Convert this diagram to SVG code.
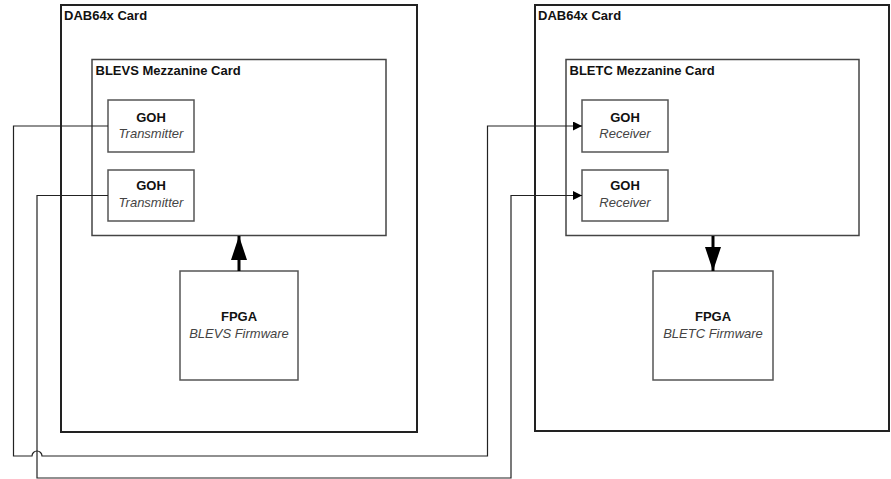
<svg xmlns="http://www.w3.org/2000/svg" width="891" height="479" viewBox="0 0 891 479">
  <style>
    .card { fill: #fff; stroke: #222; stroke-width: 2; }
    .mezz { fill: #fff; stroke: #444; stroke-width: 1.5; }
    .blk { fill: #fff; stroke: #555; stroke-width: 1.5; }
    .title { font-family: "Liberation Sans", Arial, sans-serif; font-size: 13px; font-weight: bold; fill: #111; }
    .name { font-family: "Liberation Sans", Arial, sans-serif; font-size: 13px; font-weight: bold; fill: #111; text-anchor: middle; }
    .role { font-family: "Liberation Sans", Arial, sans-serif; font-size: 13px; font-style: italic; fill: #444; text-anchor: middle; }
    .wire { fill: none; stroke: #222; stroke-width: 1.2; }
    .bus { fill: none; stroke: #000; stroke-width: 3; }
  </style>
  <defs>
    <marker id="arrow" markerWidth="9" markerHeight="9" refX="9" refY="4.5" orient="auto" markerUnits="userSpaceOnUse">
      <path d="M0,0 L9,4.5 L0,9 Z" fill="#000"/>
    </marker>
    <marker id="busArrow" markerWidth="24" markerHeight="16" refX="24" refY="8" orient="auto" markerUnits="userSpaceOnUse">
      <path d="M0,0 L24,8 L0,16 Z" fill="#000"/>
    </marker>
  </defs>

  <!-- Transmit side card -->
  <g id="card-tx">
    <rect class="card" x="61" y="5" width="356" height="427"/>
    <text class="title" x="64" y="19.5">DAB64x Card</text>
  </g>
  <g id="mezz-blevs">
    <rect class="mezz" x="92" y="59.5" width="294" height="176"/>
    <text class="title" x="95.5" y="74.5">BLEVS Mezzanine Card</text>
  </g>
  <g id="goh-tx1">
    <rect class="blk" x="108" y="100" width="86" height="52"/>
    <text class="name" x="151" y="121.5">GOH</text>
    <text class="role" x="151" y="137.5">Transmitter</text>
  </g>
  <g id="goh-tx2">
    <rect class="blk" x="108" y="170" width="86" height="51"/>
    <text class="name" x="151" y="190">GOH</text>
    <text class="role" x="151" y="206.5">Transmitter</text>
  </g>
  <g id="fpga-blevs">
    <rect class="blk" x="180" y="271" width="118" height="109"/>
    <text class="name" x="239" y="321">FPGA</text>
    <text class="role" x="239" y="338">BLEVS Firmware</text>
  </g>

  <!-- Receive side card -->
  <g id="card-rx">
    <rect class="card" x="535" y="5" width="354" height="426"/>
    <text class="title" x="538" y="19.5">DAB64x Card</text>
  </g>
  <g id="mezz-bletc">
    <rect class="mezz" x="566" y="59.5" width="293" height="176"/>
    <text class="title" x="569.5" y="74.5">BLETC Mezzanine Card</text>
  </g>
  <g id="goh-rx1">
    <rect class="blk" x="582" y="100" width="86" height="52"/>
    <text class="name" x="625" y="121.5">GOH</text>
    <text class="role" x="625" y="137.5">Receiver</text>
  </g>
  <g id="goh-rx2">
    <rect class="blk" x="582" y="170" width="86" height="51"/>
    <text class="name" x="625" y="190">GOH</text>
    <text class="role" x="625" y="206.5">Receiver</text>
  </g>
  <g id="fpga-bletc">
    <rect class="blk" x="653" y="271" width="120" height="109"/>
    <text class="name" x="713" y="321">FPGA</text>
    <text class="role" x="713" y="338">BLETC Firmware</text>
  </g>

  <!-- Connectors -->
  <g id="connectors">
    <!-- link 1: upper transmitter to upper receiver, hopping over link 2 -->
    <path class="wire" d="M108,126 H13.5 V456 H32 A5,5 0 0 1 42,456 H487.5 V126 H582" marker-end="url(#arrow)"/>
    <!-- link 2: lower transmitter to lower receiver -->
    <path class="wire" d="M108,195.5 H37 V478 H511 V195.5 H582" marker-end="url(#arrow)"/>
    <!-- FPGA to mezzanine buses -->
    <path class="bus" d="M239,271 V236" marker-end="url(#busArrow)"/>
    <path class="bus" d="M713,236 V271" marker-end="url(#busArrow)"/>
  </g>
</svg>
